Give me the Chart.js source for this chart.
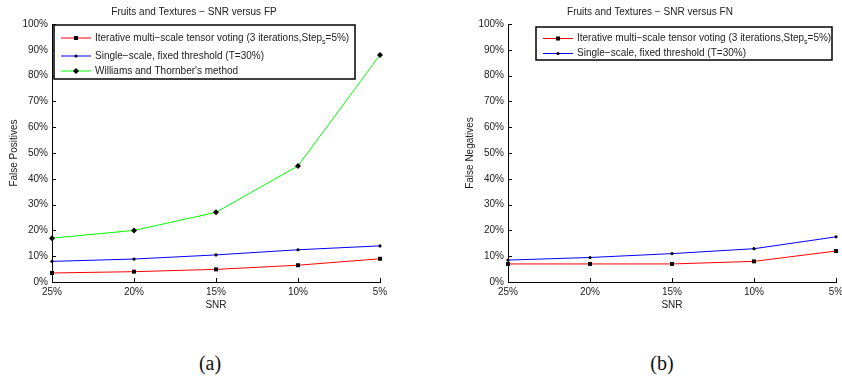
<!DOCTYPE html>
<html>
<head>
<meta charset="utf-8">
<script src="https://cdn.jsdelivr.net/npm/chart.js@4.4.1/dist/chart.umd.min.js"></script>
<style>
  body { margin: 0; background: #fff; width: 842px; height: 381px; position: relative; overflow: hidden; }
  .panel { position: absolute; top: 0; width: 421px; height: 315px; }
  .cap { position: absolute; top: 352px; width: 60px; text-align: center;
         font-family: "Liberation Serif", "DejaVu Serif", serif; font-size: 20px; color: #111; }
</style>
</head>
<body>
<div class="panel" style="left:0"><canvas id="fp-chart" width="421" height="315"></canvas></div>
<div class="panel" style="left:421px"><canvas id="fn-chart" width="421" height="315"></canvas></div>
<div class="cap" style="left:180px">(a)</div>
<div class="cap" style="left:632px">(b)</div>
<script>
const snrLabels = ["25%", "20%", "15%", "10%", "5%"];

// False positives (%), panel (a)
const fpIterative = [3.5, 4.0, 4.9, 6.5, 9.0];
const fpSingle = [8.0, 8.9, 10.5, 12.5, 14.0];
const fpWilliams = [17, 20, 27, 45, 88];

// False negatives (%), panel (b)
const fnIterative = [7.0, 7.0, 7.0, 8.0, 12.0];
const fnSingle = [8.5, 9.5, 11.0, 12.9, 17.5];

const labelIterative = "Iterative multi\u2212scale tensor voting (3 iterations,Step_{s}=5%)";
const labelSingle = "Single\u2212scale, fixed threshold (T=30%)";
const labelWilliams = "Williams and Thornber's method";

const FONT = "'Liberation Sans', Arial, sans-serif";
const TEXT = "#222";

// matlab style ticks pointing into the plot
const inwardTicks = {
  id: "inwardTicks",
  afterDraw(chart) {
    const ctx = chart.ctx;
    const a = chart.chartArea;
    const xs = chart.scales.x, ys = chart.scales.y;
    ctx.save();
    ctx.strokeStyle = "#000";
    ctx.lineWidth = 1;
    ctx.beginPath();
    ys.ticks.forEach((t, i) => {
      const y = Math.round(ys.getPixelForTick(i)) + 0.5;
      ctx.moveTo(a.left, y);
      ctx.lineTo(a.left + 4, y);
    });
    xs.ticks.forEach((t, i) => {
      const x = Math.round(xs.getPixelForTick(i)) + 0.5;
      ctx.moveTo(x, a.bottom);
      ctx.lineTo(x, a.bottom - 4);
    });
    ctx.stroke();
    ctx.restore();
  },
};

function drawMarker(ctx, style, x, y) {
  ctx.fillStyle = "#000";
  ctx.beginPath();
  if (style === "rect") {
    ctx.rect(x - 2, y - 2, 4, 4);
  } else if (style === "rectRot") {
    ctx.moveTo(x - 3, y);
    ctx.lineTo(x, y - 3);
    ctx.lineTo(x + 3, y);
    ctx.lineTo(x, y + 3);
    ctx.closePath();
  } else {
    ctx.arc(x, y, 1.6, 0, Math.PI * 2);
  }
  ctx.fill();
}

// text with an optional _{sub} part
function drawLabel(ctx, text, x, y) {
  const parts = text.split(/_\{(.*?)\}/);
  let cx = x;
  parts.forEach((p, i) => {
    if (i % 2 === 1) {
      ctx.font = "7px " + FONT;
      ctx.fillText(p, cx, y + 4);
    } else {
      ctx.font = "10px " + FONT;
      ctx.fillText(p, cx, y);
    }
    cx += ctx.measureText(p).width;
  });
}

const boxLegend = {
  id: "boxLegend",
  afterDraw(chart, args, opts) {
    const ctx = chart.ctx;
    const a = chart.chartArea;
    const left = opts.anchor === "right" ? a.right - opts.gap - opts.width : a.left + opts.gap;
    const top = a.top + opts.top;
    ctx.save();
    ctx.fillStyle = "#fff";
    ctx.fillRect(left, top, opts.width, opts.height);
    ctx.strokeStyle = "#000";
    ctx.lineWidth = 1.5;
    ctx.strokeRect(left, top, opts.width, opts.height);
    ctx.textBaseline = "middle";
    chart.data.datasets.forEach((ds, i) => {
      const y = top + opts.rows[i];
      ctx.strokeStyle = ds.borderColor;
      ctx.lineWidth = 1;
      ctx.beginPath();
      ctx.moveTo(left + 7, y);
      ctx.lineTo(left + 37, y);
      ctx.stroke();
      drawMarker(ctx, ds.pointStyle, left + 22, y);
      ctx.fillStyle = TEXT;
      drawLabel(ctx, ds.label, left + 41, y);
    });
    ctx.restore();
  },
};

function series(label, data, color, style, radius) {
  return {
    label: label,
    data: data,
    borderColor: color,
    borderWidth: 1,
    pointStyle: style,
    pointRadius: radius,
    pointBackgroundColor: "#000",
    pointBorderColor: "#000",
    pointBorderWidth: 0,
    tension: 0,
  };
}

function makeChart(id, title, yTitle, datasets, padLeft, padRight, legend) {
  new Chart(document.getElementById(id), {
    type: "line",
    data: { labels: snrLabels, datasets: datasets },
    plugins: [inwardTicks, boxLegend],
    options: {
      responsive: false,
      animation: false,
      layout: { padding: { left: padLeft, right: padRight, top: 0, bottom: 4 } },
      plugins: {
        legend: { display: false },
        tooltip: { enabled: false },
        title: {
          display: true,
          text: title,
          color: TEXT,
          font: { family: FONT, size: 10, weight: "normal" },
          padding: { top: 6, bottom: 6 },
        },
        boxLegend: legend,
      },
      scales: {
        x: {
          offset: false,
          grid: { display: false, drawTicks: false },
          border: { color: "#000", width: 1 },
          ticks: { color: TEXT, padding: 4, maxRotation: 0, font: { family: FONT, size: 10 } },
          title: {
            display: true,
            text: "SNR",
            color: TEXT,
            font: { family: FONT, size: 10 },
            padding: { top: 0, bottom: 0 },
          },
          afterFit(s) {
            s.height = 29;
            s.paddingLeft = 0;
            s.paddingRight = 0;
          },
        },
        y: {
          min: 0,
          max: 100,
          grid: { display: false, drawTicks: false },
          border: { color: "#000", width: 1 },
          ticks: {
            stepSize: 10,
            padding: 4,
            color: TEXT,
            font: { family: FONT, size: 10 },
            callback: (v) => v + "%",
          },
          title: {
            display: true,
            text: yTitle,
            color: TEXT,
            font: { family: FONT, size: 10 },
            padding: 0,
          },
          afterFit(s) {
            s.width = 44;
          },
        },
      },
    },
  });
}

makeChart(
  "fp-chart",
  "Fruits and Textures \u2212 SNR versus FP",
  "False Positives",
  [
    series(labelIterative, fpIterative, "#ff0000", "rect", 2.8),
    series(labelSingle, fpSingle, "#0000ff", "circle", 1.6),
    series(labelWilliams, fpWilliams, "#00ff00", "rectRot", 3),
  ],
  8,
  41,
  { anchor: "left", gap: 2, top: 1, width: 301, height: 54, rows: [13, 31, 46] }
);

makeChart(
  "fn-chart",
  "Fruits and Textures \u2212 SNR versus FN",
  "False Negatives",
  [
    series(labelIterative, fnIterative, "#ff0000", "rect", 2.8),
    series(labelSingle, fnSingle, "#0000ff", "circle", 1.6),
  ],
  43,
  6,
  { anchor: "right", gap: 4, top: 3, width: 296, height: 33, rows: [11.5, 26.5] }
);
</script>
</body>
</html>
